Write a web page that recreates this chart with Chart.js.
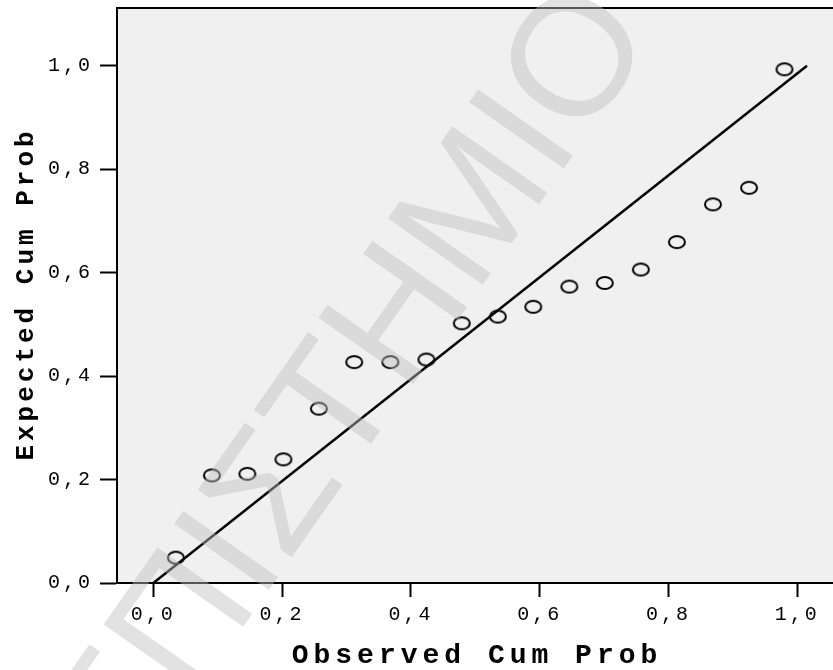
<!DOCTYPE html>
<html>
<head>
<meta charset="utf-8">
<script src="https://cdn.jsdelivr.net/npm/chart.js@4.4.1/dist/chart.umd.min.js"></script>
<style>
  html, body { margin: 0; padding: 0; background: #fff; }
  canvas { display: block; }
</style>
</head>
<body>
<canvas id="ppChart" width="833" height="670"></canvas>
<script>
// P-P plot values
const observedCumProb = [0.035, 0.091, 0.146, 0.202, 0.257, 0.312, 0.368, 0.424, 0.479,
                         0.535, 0.590, 0.646, 0.701, 0.757, 0.813, 0.869, 0.925, 0.980];
const expectedCumProb = [0.049, 0.208, 0.211, 0.239, 0.337, 0.427, 0.427, 0.432, 0.502,
                         0.515, 0.534, 0.573, 0.580, 0.606, 0.659, 0.732, 0.764, 0.993];
const diagonalX = [0, 1.015];
const diagonalY = [0, 1];
const tickValues = [0, 0.2, 0.4, 0.6, 0.8, 1.0];
const xTitle = 'Observed Cum Prob';
const yTitle = 'Expected Cum Prob';
const watermark = 'ΠΑΝΕΠΙΣΤΗΜΙΟ';

// open ellipse marker like the SPSS one
var marker = document.createElement('canvas');
marker.width = 20;
marker.height = 16;
var mctx = marker.getContext('2d');
mctx.lineWidth = 2;
mctx.strokeStyle = '#000';
mctx.beginPath();
mctx.ellipse(10, 8, 8, 6, 0, 0, Math.PI * 2);
mctx.stroke();

function fmt(v) {
    return v.toFixed(1).replace('.', ',');
}

var plotStyle = {
    id: 'plotStyle',
    beforeDraw: function(chart) {
        var ctx = chart.ctx, a = chart.chartArea;
        ctx.save();
        ctx.fillStyle = '#f0f0f0';
        ctx.fillRect(a.left, a.top, a.right - a.left, a.bottom - a.top);
        ctx.strokeStyle = '#000';
        ctx.lineWidth = 2;
        ctx.beginPath();
        ctx.moveTo(a.left, a.top);
        ctx.lineTo(a.right, a.top);
        ctx.stroke();
        ctx.restore();
        // spaced out typewriter look for the tick labels
        ctx.letterSpacing = '3px';
    },
    afterDraw: function(chart) {
        var ctx = chart.ctx, a = chart.chartArea;
        ctx.save();
        ctx.fillStyle = '#000';
        ctx.letterSpacing = '5px';
        ctx.font = 'bold 28px "Liberation Mono"';
        ctx.textAlign = 'center';
        ctx.textBaseline = 'alphabetic';
        ctx.fillText(xTitle, (a.left + a.right) / 2 + 2, 663);

        ctx.letterSpacing = '4px';
        ctx.font = 'bold 26px "Liberation Mono"';
        ctx.translate(33, 296);
        ctx.rotate(-Math.PI / 2);
        ctx.fillText(yTitle, 2, 0);
        ctx.restore();

        // watermark laid over everything
        ctx.save();
        ctx.letterSpacing = '0px';
        ctx.fillStyle = 'rgba(190,190,190,0.45)';
        ctx.font = '168px "Liberation Sans"';
        ctx.textAlign = 'right';
        ctx.textBaseline = 'alphabetic';
        ctx.translate(570, 55);
        ctx.rotate(-55 * Math.PI / 180);
        ctx.fillText(watermark, 0.389 * 168, 0.358 * 168);
        ctx.restore();
    }
};

var ctx = document.getElementById('ppChart').getContext('2d');
var ppChart = new Chart(ctx, {
    type: 'scatter',
    data: {
        datasets: [{
            label: 'Observed',
            data: observedCumProb.map(function(x, i) { return { x: x, y: expectedCumProb[i] }; }),
            pointStyle: marker,
            pointRadius: 8,
            showLine: false
        }, {
            label: 'Diagonal',
            data: diagonalX.map(function(x, i) { return { x: x, y: diagonalY[i] }; }),
            showLine: true,
            borderColor: '#000',
            borderWidth: 2.5,
            pointRadius: 0
        }]
    },
    options: {
        responsive: false,
        animation: false,
        devicePixelRatio: 1,
        layout: { autoPadding: false, padding: { top: 8, right: 0, left: 0, bottom: 0 } },
        plugins: {
            legend: { display: false },
            tooltip: { enabled: false }
        },
        scales: {
            x: {
                type: 'linear',
                min: -0.0564,
                max: 1.0554,
                afterFit: function(scale) {
                    scale.height = 87;
                    scale.paddingLeft = 0;
                    scale.paddingRight = 0;
                },
                afterBuildTicks: function(scale) {
                    scale.ticks = tickValues.map(function(v) { return { value: v }; });
                },
                grid: { drawOnChartArea: false, tickLength: 14, tickWidth: 2, tickColor: '#000' },
                border: { color: '#000', width: 2 },
                ticks: {
                    color: '#000',
                    padding: 6,
                    maxRotation: 0,
                    font: { family: '"Liberation Mono"', size: 20 },
                    callback: function(v) { return fmt(v); }
                }
            },
            y: {
                type: 'linear',
                min: 0,
                max: 1.1115,
                afterFit: function(scale) {
                    scale.width = 117;
                    scale.paddingTop = 0;
                    scale.paddingBottom = 0;
                },
                afterBuildTicks: function(scale) {
                    scale.ticks = tickValues.map(function(v) { return { value: v }; });
                },
                grid: { drawOnChartArea: false, tickLength: 17, tickWidth: 2, tickColor: '#000' },
                border: { color: '#000', width: 2 },
                ticks: {
                    color: '#000',
                    padding: 7,
                    font: { family: '"Liberation Mono"', size: 20 },
                    callback: function(v) { return fmt(v); }
                }
            }
        }
    },
    plugins: [plotStyle]
});
</script>
</body>
</html>
